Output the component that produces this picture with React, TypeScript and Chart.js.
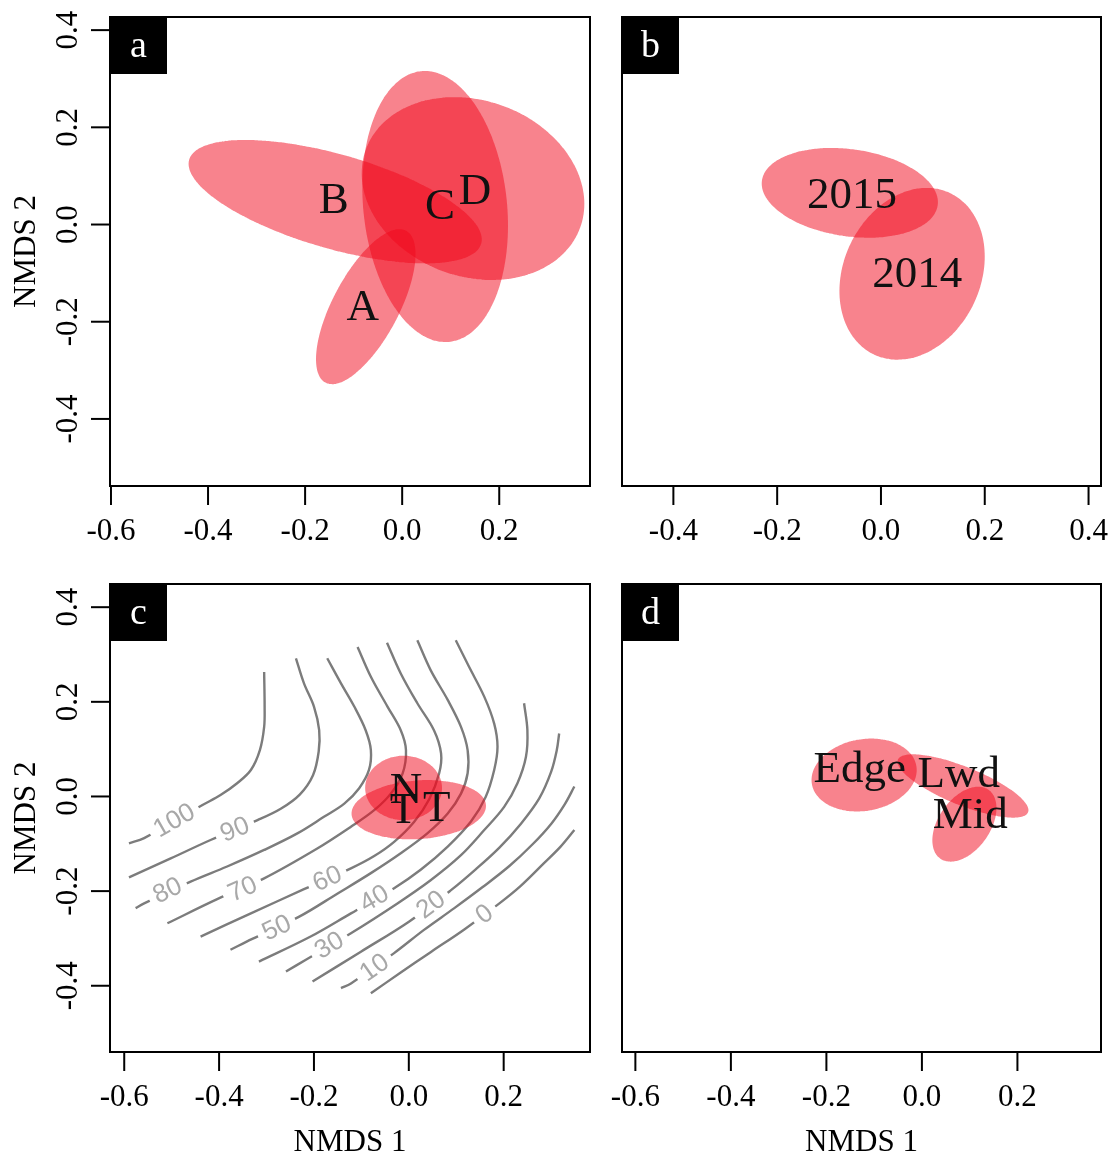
import React, { useEffect, useRef } from "react";
import { Chart, registerables } from "chart.js";

Chart.register(...registerables);

const SERIF = '"Liberation Serif", "Times New Roman", serif';
const SANS = '"Liberation Sans", Arial, sans-serif';
const FILL = "rgba(242, 8, 28, 0.5)";

// ---------- axis ticks ----------
const xTicksA = [-0.6, -0.4, -0.2, 0.0, 0.2];
const xTicksB = [-0.4, -0.2, 0.0, 0.2, 0.4];
const xTicksC = [-0.6, -0.4, -0.2, 0.0, 0.2];
const xTicksD = [-0.6, -0.4, -0.2, 0.0, 0.2];
const yTicks = [-0.4, -0.2, 0.0, 0.2, 0.4];

// ---------- panel a : groups A-D ----------
const groupsA = ["A", "B", "C", "D"];
const centreXA = [-0.075, -0.138, 0.068, 0.146];
const centreYA = [-0.169, 0.047, 0.037, 0.074];
const majorA = [0.177, 0.313, 0.28, 0.235];
const minorA = [0.068, 0.097, 0.148, 0.181];
const angleA = [62, -16, 96, -20];
const labelXA = [-0.081, -0.141, 0.078, 0.15];
const labelYA = [-0.173, 0.047, 0.036, 0.067];

// ---------- panel b : years ----------
const groupsB = ["2015", "2014"];
const centreXB = [-0.06, 0.06];
const centreYB = [0.056, -0.1];
const majorB = [0.171, 0.172];
const minorB = [0.084, 0.132];
const angleB = [-8, 65];
const labelXB = [-0.056, 0.07];
const labelYB = [0.05, -0.103];

// ---------- panel c : N / T with contours ----------
const centreXC = [-0.011, 0.021];
const centreYC = [0.018, -0.028];
const majorC = [0.081, 0.142];
const minorC = [0.068, 0.062];
const angleC = [0, 4];
const groupsC = ["N", "T", "T"];
const labelXC = [-0.006, -0.011, 0.059];
const labelYC = [0.011, -0.031, -0.027];

const contourLevels = [100, 90, 80, 70, 60, 50, 40, 30, 20, 10, 0];
const contour100 = [[-0.59, -0.099], [-0.558, -0.088], [-0.435, -0.018], [-0.397, 0.003], [-0.362, 0.028], [-0.333, 0.056], [-0.314, 0.098], [-0.305, 0.147], [-0.304, 0.19], [-0.305, 0.263]];
const contour90 = [[-0.59, -0.171], [-0.502, -0.131], [-0.418, -0.092], [-0.319, -0.05], [-0.27, -0.026], [-0.23, 0.004], [-0.202, 0.045], [-0.19, 0.095], [-0.189, 0.14], [-0.2, 0.19], [-0.221, 0.239], [-0.238, 0.292]];
const contour80 = [[-0.576, -0.236], [-0.558, -0.226], [-0.46, -0.18], [-0.383, -0.148], [-0.305, -0.113], [-0.235, -0.078], [-0.179, -0.043], [-0.136, -0.015], [-0.105, 0.017], [-0.084, 0.056], [-0.08, 0.098], [-0.091, 0.14], [-0.115, 0.19], [-0.143, 0.239], [-0.172, 0.292]];
const contour70 = [[-0.509, -0.268], [-0.404, -0.217], [-0.305, -0.173], [-0.193, -0.11], [-0.122, -0.064], [-0.073, -0.029], [-0.038, 0.006], [-0.013, 0.049], [-0.006, 0.098], [-0.017, 0.14], [-0.045, 0.19], [-0.08, 0.253], [-0.108, 0.316]];
const contour60 = [[-0.439, -0.296], [-0.333, -0.247], [-0.221, -0.196], [-0.122, -0.152], [-0.073, -0.126], [-0.031, -0.096], [0.011, -0.054], [0.043, -0.006], [0.064, 0.049], [0.068, 0.091], [0.053, 0.14], [0.018, 0.197], [-0.017, 0.26], [-0.046, 0.325]];
const contour50 = [[-0.376, -0.324], [-0.33, -0.301], [-0.231, -0.254], [-0.15, -0.205], [-0.08, -0.162], [-0.017, -0.12], [0.039, -0.078], [0.082, -0.036], [0.11, 0.006], [0.124, 0.049], [0.124, 0.098], [0.11, 0.147], [0.082, 0.204], [0.046, 0.267], [0.018, 0.33]];
const contour40 = [[-0.316, -0.349], [-0.207, -0.296], [-0.122, -0.247], [-0.031, -0.194], [0.025, -0.155], [0.082, -0.106], [0.131, -0.053], [0.162, -0.001], [0.18, 0.056], [0.187, 0.105], [0.18, 0.154], [0.159, 0.211], [0.127, 0.274], [0.099, 0.33]];
const contour30 = [[-0.259, -0.37], [-0.217, -0.345], [-0.122, -0.289], [-0.024, -0.226], [0.046, -0.177], [0.11, -0.124], [0.159, -0.071], [0.201, -0.022], [0.229, 0.028], [0.247, 0.084], [0.25, 0.14], [0.243, 0.197]];
const contour20 = [[-0.203, -0.391], [-0.101, -0.328], [0.001, -0.264], [0.089, -0.198], [0.141, -0.154], [0.191, -0.108], [0.236, -0.058], [0.275, -0.004], [0.3, 0.052], [0.312, 0.098], [0.317, 0.133]];
const contour10 = [[-0.143, -0.405], [-0.122, -0.395], [-0.031, -0.331], [0.032, -0.282], [0.096, -0.236], [0.155, -0.192], [0.212, -0.147], [0.261, -0.101], [0.3, -0.058], [0.329, -0.016], [0.349, 0.021]];
const contour0 = [[-0.08, -0.416], [-0.017, -0.372], [0.046, -0.329], [0.117, -0.281], [0.191, -0.226], [0.236, -0.189], [0.285, -0.141], [0.32, -0.106], [0.349, -0.071]];
const contourLabelX = [-0.495, -0.367, -0.509, -0.351, -0.172, -0.279, -0.073, -0.168, 0.046, -0.073, 0.159];
const contourLabelY = [-0.05, -0.069, -0.198, -0.195, -0.173, -0.277, -0.215, -0.314, -0.228, -0.361, -0.248];

// ---------- panel d : Edge / Lwd / Mid ----------
const groupsD = ["Edge", "Lwd", "Mid"];
const centreXD = [-0.121, 0.086, 0.089];
const centreYD = [0.044, 0.021, -0.059];
const majorD = [0.111, 0.147, 0.088];
const minorD = [0.075, 0.04, 0.054];
const angleD = [10, -22, 55];
const labelXD = [-0.13, 0.077, 0.101];
const labelYD = [0.055, 0.043, -0.043];

type Pt = { x: number; y: number };

function ellipsePoints(cx: number, cy: number, a: number, b: number, deg: number): Pt[] {
  const t = (deg * Math.PI) / 180;
  const pts: Pt[] = [];
  const n = 160;
  for (let i = 0; i <= n; i++) {
    const u = (2 * Math.PI * i) / n;
    const ex = a * Math.cos(u);
    const ey = b * Math.sin(u);
    pts.push({ x: cx + ex * Math.cos(t) - ey * Math.sin(t), y: cy + ex * Math.sin(t) + ey * Math.cos(t) });
  }
  return pts;
}

interface PanelSpec {
  left: number; top: number; width: number; height: number;
  pad: { left: number; right: number; top: number; bottom: number };
  xRange: number[]; yRange: number[];
  xTicks: number[]; yTicks: number[] | null;
  letter: string; xTitle: string | null; yTitle: string | null;
  ell: { cx: number[]; cy: number[]; a: number[]; b: number[]; ang: number[] };
  labels: string[]; labelX: number[]; labelY: number[];
  contours?: number[][][];
}

function contourGeom(chart: any, pts: number[][], lx: number, ly: number) {
  const xs = chart.scales.x, ys = chart.scales.y;
  const px = xs.getPixelForValue(lx), py = ys.getPixelForValue(ly);
  let best = Infinity, ang = 0;
  for (let i = 0; i < pts.length - 1; i++) {
    const x1 = xs.getPixelForValue(pts[i][0]), y1 = ys.getPixelForValue(pts[i][1]);
    const x2 = xs.getPixelForValue(pts[i + 1][0]), y2 = ys.getPixelForValue(pts[i + 1][1]);
    const dx = x2 - x1, dy = y2 - y1;
    const L2 = dx * dx + dy * dy || 1;
    let t = ((px - x1) * dx + (py - y1) * dy) / L2;
    t = Math.max(0, Math.min(1, t));
    const d = Math.hypot(px - (x1 + t * dx), py - (y1 + t * dy));
    if (d < best) { best = d; ang = Math.atan2(dy, dx); }
  }
  if (ang > Math.PI / 2) ang -= Math.PI;
  if (ang < -Math.PI / 2) ang += Math.PI;
  return { px, py, ang };
}

const CONTOUR_FONT = `26px ${SANS}`;

function makePlugin(spec: PanelSpec) {
  return {
    id: "decor",
    beforeDatasetDraw(chart: any, args: any) {
      const ds: any = chart.data.datasets[args.index];
      if (ds.contourIndex === undefined || !spec.contours) return;
      const i = ds.contourIndex;
      const g = contourGeom(chart, spec.contours[i], contourLabelX[i], contourLabelY[i]);
      const ctx = chart.ctx;
      ctx.save();
      ctx.font = CONTOUR_FONT;
      const w = ctx.measureText(String(contourLevels[i])).width + 12;
      const h = 30;
      const c = Math.cos(g.ang), s = Math.sin(g.ang);
      const corners = [[-w / 2, -h / 2], [w / 2, -h / 2], [w / 2, h / 2], [-w / 2, h / 2]].map(([u, v]) => [g.px + u * c - v * s, g.py + u * s + v * c]);
      ctx.beginPath();
      ctx.rect(0, 0, chart.width, chart.height);
      ctx.moveTo(corners[0][0], corners[0][1]);
      for (let k = 1; k < 4; k++) ctx.lineTo(corners[k][0], corners[k][1]);
      ctx.closePath();
      ctx.clip("evenodd");
    },
    afterDatasetDraw(chart: any, args: any) {
      const ds: any = chart.data.datasets[args.index];
      if (ds.contourIndex === undefined || !spec.contours) return;
      chart.ctx.restore();
    },
    afterDatasetsDraw(chart: any) {
      const ctx = chart.ctx;
      const xs = chart.scales.x, ys = chart.scales.y;
      if (spec.contours) {
        ctx.save();
        ctx.font = CONTOUR_FONT;
        ctx.fillStyle = "#a8a8a8";
        ctx.textAlign = "center";
        ctx.textBaseline = "middle";
        spec.contours.forEach((pts, i) => {
          const g = contourGeom(chart, pts, contourLabelX[i], contourLabelY[i]);
          ctx.save();
          ctx.translate(g.px, g.py);
          ctx.rotate(g.ang);
          ctx.fillText(String(contourLevels[i]), 0, 1);
          ctx.restore();
        });
        ctx.restore();
      }
      ctx.save();
      ctx.font = `45px ${SERIF}`;
      ctx.fillStyle = "#111";
      ctx.textAlign = "center";
      ctx.textBaseline = "middle";
      spec.labels.forEach((t, i) => {
        ctx.fillText(t, xs.getPixelForValue(spec.labelX[i]), ys.getPixelForValue(spec.labelY[i]));
      });
      ctx.restore();
    },
    afterDraw(chart: any) {
      const ctx = chart.ctx;
      const ca = chart.chartArea;
      const xs = chart.scales.x, ys = chart.scales.y;
      ctx.save();
      ctx.strokeStyle = "#000";
      ctx.lineWidth = 2;
      ctx.strokeRect(ca.left, ca.top, ca.right - ca.left, ca.bottom - ca.top);
      ctx.fillStyle = "#000";
      ctx.font = `31px ${SERIF}`;
      ctx.textAlign = "center";
      ctx.textBaseline = "middle";
      spec.xTicks.forEach((v) => {
        const x = xs.getPixelForValue(v);
        ctx.beginPath();
        ctx.moveTo(x, ca.bottom);
        ctx.lineTo(x, ca.bottom + 19);
        ctx.stroke();
        ctx.fillText(v.toFixed(1), x, ca.bottom + 46);
      });
      if (spec.yTicks) {
        spec.yTicks.forEach((v) => {
          const y = ys.getPixelForValue(v);
          ctx.beginPath();
          ctx.moveTo(ca.left, y);
          ctx.lineTo(ca.left - 19, y);
          ctx.stroke();
          ctx.save();
          ctx.translate(ca.left - 41, y);
          ctx.rotate(-Math.PI / 2);
          ctx.fillText(v.toFixed(1), 0, 0);
          ctx.restore();
        });
      }
      if (spec.xTitle) ctx.fillText(spec.xTitle, (ca.left + ca.right) / 2, ca.bottom + 91);
      if (spec.yTitle) {
        ctx.save();
        ctx.translate(ca.left - 83, (ca.top + ca.bottom) / 2);
        ctx.rotate(-Math.PI / 2);
        ctx.fillText(spec.yTitle, 0, 0);
        ctx.restore();
      }
      ctx.fillStyle = "#000";
      ctx.fillRect(ca.left, ca.top, 57, 57);
      ctx.fillStyle = "#fff";
      ctx.font = `38px ${SERIF}`;
      ctx.textBaseline = "alphabetic";
      ctx.fillText(spec.letter, ca.left + 28.5, ca.top + 40);
      ctx.restore();
    },
  };
}

const panelA: PanelSpec = {
  left: 0, top: 0, width: 600, height: 570,
  pad: { left: 110, right: 10, top: 17, bottom: 84 },
  xRange: [-0.602, 0.387], yRange: [-0.538, 0.427],
  xTicks: xTicksA, yTicks: yTicks, letter: "a", xTitle: null, yTitle: "NMDS 2",
  ell: { cx: centreXA, cy: centreYA, a: majorA, b: minorA, ang: angleA },
  labels: groupsA, labelX: labelXA, labelY: labelYA,
};
const panelB: PanelSpec = {
  left: 600, top: 0, width: 509, height: 570,
  pad: { left: 22, right: 8, top: 17, bottom: 84 },
  xRange: [-0.499, 0.424], yRange: [-0.509, 0.395],
  xTicks: xTicksB, yTicks: null, letter: "b", xTitle: null, yTitle: null,
  ell: { cx: centreXB, cy: centreYB, a: majorB, b: minorB, ang: angleB },
  labels: groupsB, labelX: labelXB, labelY: labelYB,
};
const panelC: PanelSpec = {
  left: 0, top: 570, width: 600, height: 585,
  pad: { left: 110, right: 10, top: 14, bottom: 103 },
  xRange: [-0.63, 0.382], yRange: [-0.54, 0.449],
  xTicks: xTicksC, yTicks: yTicks, letter: "c", xTitle: "NMDS 1", yTitle: "NMDS 2",
  ell: { cx: centreXC, cy: centreYC, a: majorC, b: minorC, ang: angleC },
  labels: groupsC, labelX: labelXC, labelY: labelYC,
  contours: [contour100, contour90, contour80, contour70, contour60, contour50, contour40, contour30, contour20, contour10, contour0],
};
const panelD: PanelSpec = {
  left: 600, top: 570, width: 509, height: 585,
  pad: { left: 22, right: 8, top: 14, bottom: 103 },
  xRange: [-0.628, 0.375], yRange: [-0.536, 0.444],
  xTicks: xTicksD, yTicks: null, letter: "d", xTitle: "NMDS 1", yTitle: null,
  ell: { cx: centreXD, cy: centreYD, a: majorD, b: minorD, ang: angleD },
  labels: groupsD, labelX: labelXD, labelY: labelYD,
};

function Panel({ spec }: { spec: PanelSpec }) {
  const ref = useRef<HTMLCanvasElement>(null);
  useEffect(() => {
    const canvas = ref.current;
    if (!canvas) return;
    const datasets: any[] = [];
    spec.ell.cx.forEach((cx, i) => {
      datasets.push({
        data: ellipsePoints(cx, spec.ell.cy[i], spec.ell.a[i], spec.ell.b[i], spec.ell.ang[i]),
        fill: "shape",
        backgroundColor: FILL,
        borderColor: "rgba(0,0,0,0)",
        borderWidth: 1,
        pointRadius: 0,
        tension: 0.01,
      });
    });
    (spec.contours || []).forEach((pts, i) => {
      datasets.push({
        data: pts.map(([x, y]) => ({ x, y })),
        fill: false,
        borderColor: "#7c7c7c",
        borderWidth: 2.4,
        pointRadius: 0,
        tension: 0.35,
        contourIndex: i,
      });
    });
    const chart = new Chart(canvas, {
      type: "line",
      data: { datasets },
      options: {
        animation: false,
        responsive: false,
        devicePixelRatio: 1,
        events: [],
        layout: { padding: spec.pad },
        scales: {
          x: { type: "linear", min: spec.xRange[0], max: spec.xRange[1], display: false },
          y: { type: "linear", min: spec.yRange[0], max: spec.yRange[1], display: false },
        },
        plugins: { legend: { display: false }, tooltip: { enabled: false } },
      } as any,
      plugins: [makePlugin(spec) as any],
    });
    return () => chart.destroy();
  }, [spec]);
  return (
    <canvas
      ref={ref}
      width={spec.width}
      height={spec.height}
      style={{ position: "absolute", left: spec.left, top: spec.top, width: spec.width, height: spec.height }}
    />
  );
}

export default function App() {
  return (
    <div style={{ position: "fixed", left: 0, top: 0, width: 1109, height: 1155, background: "#fff" }}>
      <Panel spec={panelA} />
      <Panel spec={panelB} />
      <Panel spec={panelC} />
      <Panel spec={panelD} />
    </div>
  );
}
